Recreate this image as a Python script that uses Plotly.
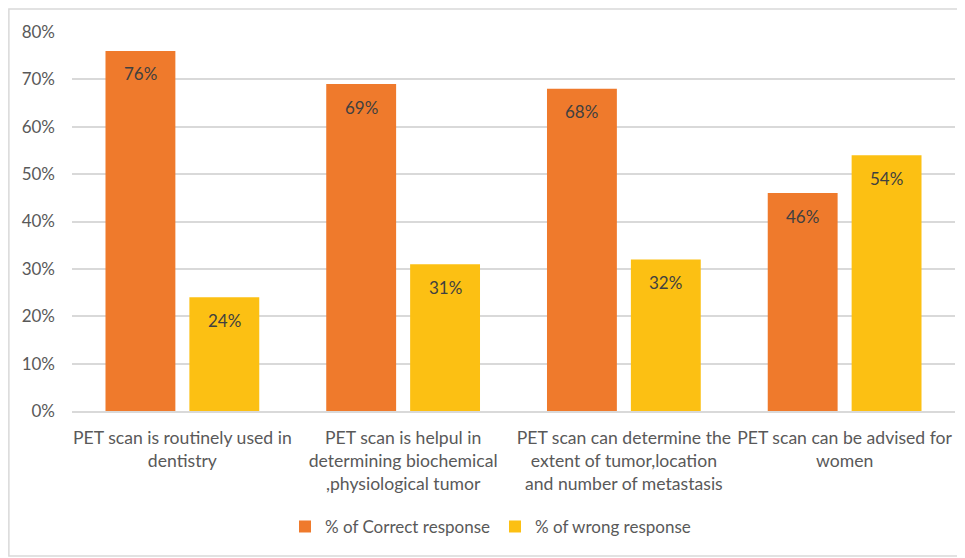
import plotly.graph_objects as go

categories = [
    "PET scan is routinely used in<br>dentistry",
    "PET scan is helpul in<br>determining biochemical<br>,physiological tumor",
    "PET scan can determine the<br>extent of tumor,location<br>and number of metastasis",
    "PET scan can be advised for<br>women",
]
correct = [0.76, 0.69, 0.68, 0.46]
wrong = [0.24, 0.31, 0.32, 0.54]
series_names = ["% of Correct response", "% of wrong response"]
ytick_vals = [0, 0.1, 0.2, 0.3, 0.4, 0.5, 0.6, 0.7, 0.8]

font_family = "Lato, Open Sans, sans-serif"
label_color = "#595959"

fig = go.Figure()
series = [
    (series_names[0], correct, "#EF7A2C", -42),
    (series_names[1], wrong, "#FCC013", 42),
]
for name, vals, col, _ in series:
    fig.add_trace(go.Bar(
        x=categories, y=vals, name=name,
        marker=dict(color=col, line=dict(width=0)),
    ))

# data labels inside the top of each bar
for name, vals, col, dx in series:
    for cat, v in zip(categories, vals):
        fig.add_annotation(
            x=cat, y=v, text=f"{round(v*100)}%", showarrow=False,
            xshift=dx, yshift=-23, yanchor="middle",
            font=dict(color="#404040", size=17, family=font_family),
        )

fig.update_layout(
    width=965, height=558,
    margin=dict(l=64, r=18, t=24, b=155, autoexpand=False),
    paper_bgcolor="white", plot_bgcolor="white",
    barmode="group", bargap=0.24, bargroupgap=0.167,
    font=dict(family=font_family, size=17, color=label_color),
    showlegend=True,
    legend=dict(orientation="h", x=0.5, xanchor="center", xref="container",
                y=0.07, yanchor="middle", yref="container",
                font=dict(size=17, color=label_color), traceorder="normal",
                itemwidth=30),
)
fig.update_yaxes(
    range=[0, 0.8], tickvals=ytick_vals, tickformat=".0%",
    showgrid=True, gridcolor="#D9D9D9", gridwidth=1.5,
    zeroline=False, showline=False, ticks="", automargin=False,
    tickfont=dict(size=17, color=label_color), ticklabelstandoff=16,
)
fig.update_xaxes(
    showline=True, linecolor="#D9D9D9", linewidth=1.5, ticks="", automargin=False,
    tickfont=dict(size=17.6, color=label_color), tickangle=0,
    ticklabelstandoff=10,
)
fig.add_shape(type="rect", xref="paper", yref="paper",
              x0=-0.0715, x1=1.0079, y0=-0.3826, y1=1.0607,
              line=dict(color="#D9D9D9", width=1.5), fillcolor="rgba(0,0,0,0)",
              layer="below")

fig.write_html("out.html")
